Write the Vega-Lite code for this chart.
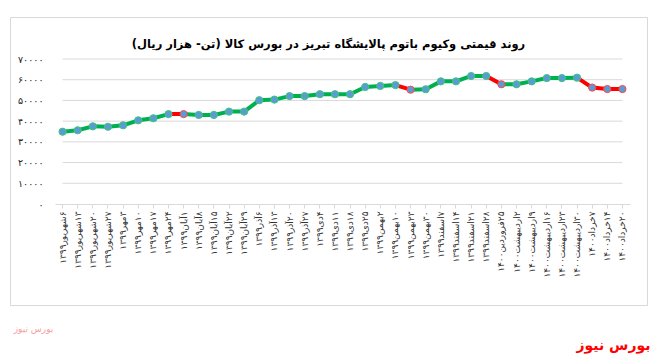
{
  "$schema": "https://vega.github.io/schema/vega-lite/v6.json",
  "width": 637,
  "height": 288,
  "autosize": {"type": "none"},
  "padding": {"left": 10, "top": 17, "right": 10, "bottom": 51},
  "background": "white",
  "title": {
    "text": "‏روند قیمتی وکیوم باتوم پالایشگاه تبریز در بورس کالا (تن- هزار ریال)‏",
    "frame": "group",
    "anchor": "middle",
    "offset": -39,
    "baseline": "middle",
    "fontSize": 11.5,
    "fontWeight": "bold",
    "color": "#000000",
    "font": "DejaVu Sans"
  },
  "datasets": {
    "prices": [
      {"i": 1, "label": "۶شهریور۱۳۹۹", "price": 34900, "trend": "up"},
      {"i": 2, "label": "۱۳شهریور۱۳۹۹", "price": 35600, "trend": "up"},
      {"i": 3, "label": "۲۰شهریور۱۳۹۹", "price": 37500, "trend": "up"},
      {"i": 4, "label": "۲۷شهریور۱۳۹۹", "price": 37300, "trend": "up"},
      {"i": 5, "label": "۳مهر۱۳۹۹", "price": 38000, "trend": "up"},
      {"i": 6, "label": "۱۰مهر۱۳۹۹", "price": 40400, "trend": "up"},
      {"i": 7, "label": "۱۷مهر۱۳۹۹", "price": 41400, "trend": "up"},
      {"i": 8, "label": "۲۴مهر۱۳۹۹", "price": 43400, "trend": "up"},
      {"i": 9, "label": "۱آبان۱۳۹۹", "price": 43400, "trend": "down"},
      {"i": 10, "label": "۸آبان۱۳۹۹", "price": 43000, "trend": "up"},
      {"i": 11, "label": "۱۵آبان۱۳۹۹", "price": 43000, "trend": "up"},
      {"i": 12, "label": "۲۲آبان۱۳۹۹", "price": 44600, "trend": "up"},
      {"i": 13, "label": "۲۹آبان۱۳۹۹", "price": 44600, "trend": "up"},
      {"i": 14, "label": "۶آذر۱۳۹۹", "price": 50100, "trend": "up"},
      {"i": 15, "label": "۱۳آذر۱۳۹۹", "price": 50400, "trend": "up"},
      {"i": 16, "label": "۲۰آذر۱۳۹۹", "price": 52100, "trend": "up"},
      {"i": 17, "label": "۲۷آذر۱۳۹۹", "price": 52100, "trend": "up"},
      {"i": 18, "label": "۴دی۱۳۹۹", "price": 53000, "trend": "up"},
      {"i": 19, "label": "۱۱دی۱۳۹۹", "price": 53000, "trend": "up"},
      {"i": 20, "label": "۱۸دی۱۳۹۹", "price": 53000, "trend": "up"},
      {"i": 21, "label": "۲۵دی۱۳۹۹", "price": 56500, "trend": "up"},
      {"i": 22, "label": "۲بهمن۱۳۹۹", "price": 57000, "trend": "up"},
      {"i": 23, "label": "۱۰بهمن۱۳۹۹", "price": 57400, "trend": "up"},
      {"i": 24, "label": "۲۳بهمن۱۳۹۹", "price": 55200, "trend": "down"},
      {"i": 25, "label": "۳۰بهمن۱۳۹۹", "price": 55400, "trend": "up"},
      {"i": 26, "label": "۷اسفند۱۳۹۹", "price": 59200, "trend": "up"},
      {"i": 27, "label": "۱۴اسفند۱۳۹۹", "price": 59200, "trend": "up"},
      {"i": 28, "label": "۲۱اسفند۱۳۹۹", "price": 61800, "trend": "up"},
      {"i": 29, "label": "۲۸اسفند۱۳۹۹", "price": 61800, "trend": "up"},
      {"i": 30, "label": "۲۵فروردین۱۴۰۰", "price": 57800, "trend": "down"},
      {"i": 31, "label": "۲اردیبهشت۱۴۰۰", "price": 57800, "trend": "up"},
      {"i": 32, "label": "۹اردیبهشت۱۴۰۰", "price": 59200, "trend": "up"},
      {"i": 33, "label": "۱۶اردیبهشت۱۴۰۰", "price": 60800, "trend": "up"},
      {"i": 34, "label": "۲۳اردیبهشت۱۴۰۰", "price": 60800, "trend": "up"},
      {"i": 35, "label": "۳۰اردیبهشت۱۴۰۰", "price": 61000, "trend": "up"},
      {"i": 36, "label": "۷خرداد۱۴۰۰", "price": 56200, "trend": "down"},
      {"i": 37, "label": "۱۴خرداد۱۴۰۰", "price": 55500, "trend": "down"},
      {"i": 38, "label": "۲۰خرداد۱۴۰۰", "price": 55500, "trend": "down"}
    ],
    "grid": [
      {"v": 10000}, {"v": 20000}, {"v": 30000}, {"v": 40000},
      {"v": 50000}, {"v": 60000}, {"v": 70000}
    ]
  },
  "layer": [
    {
      "data": {"name": "grid"},
      "mark": {"type": "rule", "color": "#d9d9d9", "strokeWidth": 1},
      "encoding": {
        "x": {"datum": "۶شهریور۱۳۹۹", "type": "ordinal"},
        "x2": {"datum": "۲۰خرداد۱۴۰۰"},
        "y": {"field": "v", "type": "quantitative", "title": "بورس نیوز"}
      }
    },
    {
      "data": {"name": "prices"},
      "transform": [
        {"window": [
          {"op": "lead", "field": "label", "as": "label2"},
          {"op": "lead", "field": "price", "as": "price2"},
          {"op": "lead", "field": "trend", "as": "trend2"}
        ], "sort": [{"field": "i"}]},
        {"filter": "datum.label2 != null"}
      ],
      "mark": {"type": "rule", "strokeWidth": 4, "strokeCap": "round"},
      "encoding": {
        "x": {"field": "label", "type": "ordinal"},
        "x2": {"field": "label2"},
        "y": {"field": "price", "type": "quantitative", "title": "بورس نیوز"},
        "y2": {"field": "price2"},
        "color": {"field": "trend2", "type": "nominal", "legend": null,
          "scale": {"domain": ["up", "down"], "range": ["#00B050", "#FF0000"]}}
      }
    },
    {
      "data": {"name": "prices"},
      "mark": {"type": "point", "filled": true, "fill": "#5B9BD5", "size": 52, "strokeWidth": 1, "opacity": 1},
      "encoding": {
        "x": {
          "field": "label", "type": "ordinal", "sort": null,
          "scale": {
            "domain": ["۶شهریور۱۳۹۹", "۱۳شهریور۱۳۹۹", "۲۰شهریور۱۳۹۹", "۲۷شهریور۱۳۹۹", "۳مهر۱۳۹۹", "۱۰مهر۱۳۹۹", "۱۷مهر۱۳۹۹", "۲۴مهر۱۳۹۹", "۱آبان۱۳۹۹", "۸آبان۱۳۹۹", "۱۵آبان۱۳۹۹", "۲۲آبان۱۳۹۹", "۲۹آبان۱۳۹۹", "۶آذر۱۳۹۹", "۱۳آذر۱۳۹۹", "۲۰آذر۱۳۹۹", "۲۷آذر۱۳۹۹", "۴دی۱۳۹۹", "۱۱دی۱۳۹۹", "۱۸دی۱۳۹۹", "۲۵دی۱۳۹۹", "۲بهمن۱۳۹۹", "۱۰بهمن۱۳۹۹", "۲۳بهمن۱۳۹۹", "۳۰بهمن۱۳۹۹", "۷اسفند۱۳۹۹", "۱۴اسفند۱۳۹۹", "۲۱اسفند۱۳۹۹", "۲۸اسفند۱۳۹۹", "۲۵فروردین۱۴۰۰", "۲اردیبهشت۱۴۰۰", "۹اردیبهشت۱۴۰۰", "۱۶اردیبهشت۱۴۰۰", "۲۳اردیبهشت۱۴۰۰", "۳۰اردیبهشت۱۴۰۰", "۷خرداد۱۴۰۰", "۱۴خرداد۱۴۰۰", "۲۰خرداد۱۴۰۰"],
            "range": [45, 620],
            "padding": 0
          },
          "axis": {
            "title": "بورس نیوز",
            "offset": -101,
            "labelAngle": 270,
            "labelExpr": "'‏' + datum.label + '‏'",
            "labelFont": "DejaVu Sans",
            "labelFontSize": 9,
            "labelColor": "#333333",
            "labelPadding": 3,
            "labelOverlap": false,
            "domain": true,
            "domainColor": "#d9d9d9",
            "ticks": true,
            "tickColor": "#d9d9d9",
            "tickSize": 4,
            "grid": false,
            "titleFont": "DejaVu Sans",
            "titleFontSize": 14,
            "titleFontWeight": "bold",
            "titleColor": "#FF0000",
            "titleAnchor": "end",
            "titleAlign": "right",
            "titleBaseline": "alphabetic",
            "titleX": 640,
            "titleY": 145
          }
        },
        "y": {
          "field": "price", "type": "quantitative", "title": "بورس نیوز",
          "scale": {"domain": [0, 70000], "range": [187, 42], "nice": false},
          "axis": {
            "values": [0, 10000, 20000, 30000, 40000, 50000, 60000, 70000],
            "labelExpr": "datum.value == 0 ? '۰' : ['', '۱', '۲', '۳', '۴', '۵', '۶', '۷'][round(datum.value / 10000)] + '۰۰۰۰'",
            "offset": -33,
            "domain": false,
            "ticks": false,
            "grid": false,
            "labelPadding": 0,
            "labelFont": "DejaVu Sans",
            "labelFontSize": 9.5,
            "labelColor": "#222222",
            "titleFont": "DejaVu Sans",
            "titleFontSize": 9,
            "titleFontWeight": "normal",
            "titleColor": "#f4a0a0",
            "titleAngle": 0,
            "titleAlign": "center",
            "titleBaseline": "middle",
            "titleX": -10,
            "titleY": 311
          }
        },
        "stroke": {"field": "trend", "type": "nominal", "legend": null,
          "scale": {"domain": ["up", "down"], "range": ["#3cc878", "#ff4a4a"]}}
      }
    }
  ],
  "config": {
    "font": "DejaVu Sans",
    "view": {"stroke": "#d9d9d9", "strokeWidth": 1}
  }
}
